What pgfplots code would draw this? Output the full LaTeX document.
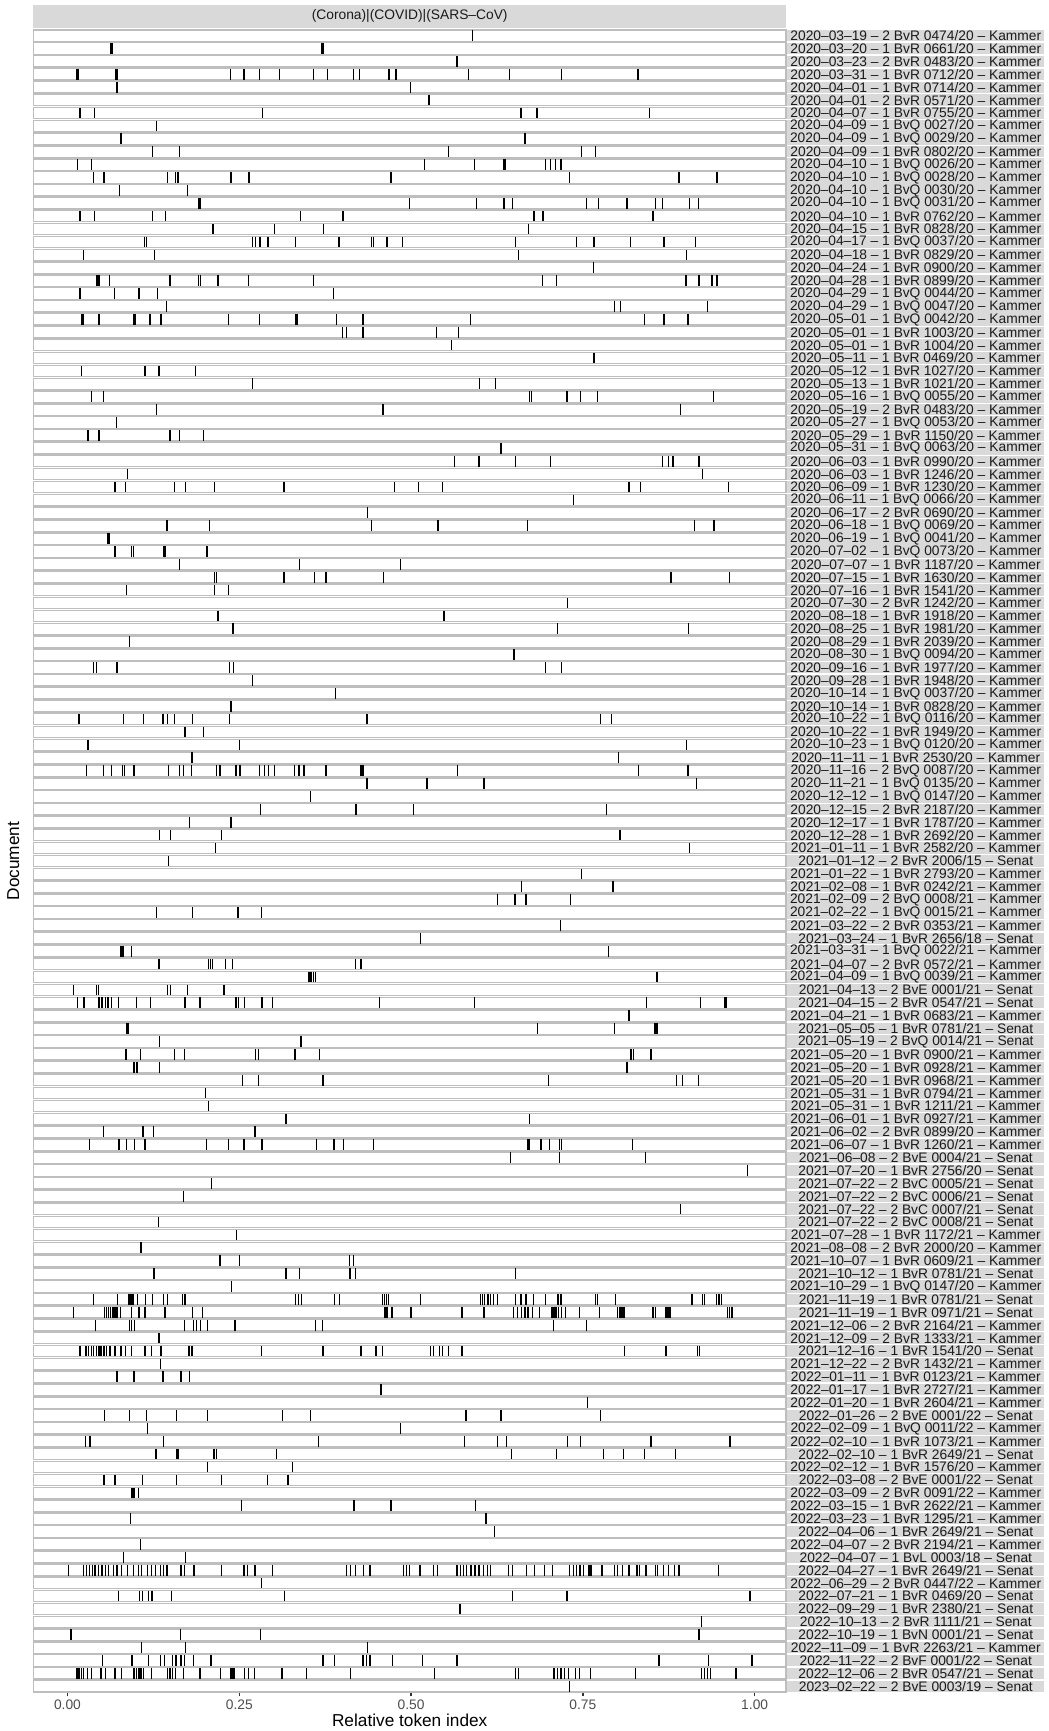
\documentclass[border=0pt]{standalone}
\usepackage{pgfplots}
\pgfplotsset{compat=1.18}
\usepackage{pgfplotstable}
\usepackage{fontspec}
\setmainfont{Liberation Sans}
\definecolor{stripbg}{HTML}{D9D9D9}
\definecolor{panelborder}{HTML}{BEBEBE}
\definecolor{gtext}{HTML}{1A1A1A}
\definecolor{gaxis}{HTML}{4D4D4D}
\definecolor{gtick}{HTML}{333333}
\newcommand\doclabel[1]{\ifcase#1\or
2020–03–19 – 2 BvR 0474/20 – Kammer\or
2020–03–20 – 1 BvR 0661/20 – Kammer\or
2020–03–23 – 2 BvR 0483/20 – Kammer\or
2020–03–31 – 1 BvR 0712/20 – Kammer\or
2020–04–01 – 1 BvR 0714/20 – Kammer\or
2020–04–01 – 2 BvR 0571/20 – Kammer\or
2020–04–07 – 1 BvR 0755/20 – Kammer\or
2020–04–09 – 1 BvQ 0027/20 – Kammer\or
2020–04–09 – 1 BvQ 0029/20 – Kammer\or
2020–04–09 – 1 BvR 0802/20 – Kammer\or
2020–04–10 – 1 BvQ 0026/20 – Kammer\or
2020–04–10 – 1 BvQ 0028/20 – Kammer\or
2020–04–10 – 1 BvQ 0030/20 – Kammer\or
2020–04–10 – 1 BvQ 0031/20 – Kammer\or
2020–04–10 – 1 BvR 0762/20 – Kammer\or
2020–04–15 – 1 BvR 0828/20 – Kammer\or
2020–04–17 – 1 BvQ 0037/20 – Kammer\or
2020–04–18 – 1 BvR 0829/20 – Kammer\or
2020–04–24 – 1 BvR 0900/20 – Kammer\or
2020–04–28 – 1 BvR 0899/20 – Kammer\or
2020–04–29 – 1 BvQ 0044/20 – Kammer\or
2020–04–29 – 1 BvQ 0047/20 – Kammer\or
2020–05–01 – 1 BvQ 0042/20 – Kammer\or
2020–05–01 – 1 BvR 1003/20 – Kammer\or
2020–05–01 – 1 BvR 1004/20 – Kammer\or
2020–05–11 – 1 BvR 0469/20 – Kammer\or
2020–05–12 – 1 BvR 1027/20 – Kammer\or
2020–05–13 – 1 BvR 1021/20 – Kammer\or
2020–05–16 – 1 BvQ 0055/20 – Kammer\or
2020–05–19 – 2 BvR 0483/20 – Kammer\or
2020–05–27 – 1 BvQ 0053/20 – Kammer\or
2020–05–29 – 1 BvR 1150/20 – Kammer\or
2020–05–31 – 1 BvQ 0063/20 – Kammer\or
2020–06–03 – 1 BvR 0990/20 – Kammer\or
2020–06–03 – 1 BvR 1246/20 – Kammer\or
2020–06–09 – 1 BvR 1230/20 – Kammer\or
2020–06–11 – 1 BvQ 0066/20 – Kammer\or
2020–06–17 – 2 BvR 0690/20 – Kammer\or
2020–06–18 – 1 BvQ 0069/20 – Kammer\or
2020–06–19 – 1 BvQ 0041/20 – Kammer\or
2020–07–02 – 1 BvQ 0073/20 – Kammer\or
2020–07–07 – 1 BvR 1187/20 – Kammer\or
2020–07–15 – 1 BvR 1630/20 – Kammer\or
2020–07–16 – 1 BvR 1541/20 – Kammer\or
2020–07–30 – 2 BvR 1242/20 – Kammer\or
2020–08–18 – 1 BvR 1918/20 – Kammer\or
2020–08–25 – 1 BvR 1981/20 – Kammer\or
2020–08–29 – 1 BvR 2039/20 – Kammer\or
2020–08–30 – 1 BvQ 0094/20 – Kammer\or
2020–09–16 – 1 BvR 1977/20 – Kammer\or
2020–09–28 – 1 BvR 1948/20 – Kammer\or
2020–10–14 – 1 BvQ 0037/20 – Kammer\or
2020–10–14 – 1 BvR 0828/20 – Kammer\or
2020–10–22 – 1 BvQ 0116/20 – Kammer\or
2020–10–22 – 1 BvR 1949/20 – Kammer\or
2020–10–23 – 1 BvQ 0120/20 – Kammer\or
2020–11–11 – 1 BvR 2530/20 – Kammer\or
2020–11–16 – 2 BvQ 0087/20 – Kammer\or
2020–11–21 – 1 BvQ 0135/20 – Kammer\or
2020–12–12 – 1 BvQ 0147/20 – Kammer\or
2020–12–15 – 2 BvR 2187/20 – Kammer\or
2020–12–17 – 1 BvR 1787/20 – Kammer\or
2020–12–28 – 1 BvR 2692/20 – Kammer\or
2021–01–11 – 1 BvR 2582/20 – Kammer\or
2021–01–12 – 2 BvR 2006/15 – Senat\or
2021–01–22 – 1 BvR 2793/20 – Kammer\or
2021–02–08 – 1 BvR 0242/21 – Kammer\or
2021–02–09 – 2 BvQ 0008/21 – Kammer\or
2021–02–22 – 1 BvQ 0015/21 – Kammer\or
2021–03–22 – 2 BvR 0353/21 – Kammer\or
2021–03–24 – 1 BvR 2656/18 – Senat\or
2021–03–31 – 1 BvQ 0022/21 – Kammer\or
2021–04–07 – 2 BvR 0572/21 – Kammer\or
2021–04–09 – 1 BvQ 0039/21 – Kammer\or
2021–04–13 – 2 BvE 0001/21 – Senat\or
2021–04–15 – 2 BvR 0547/21 – Senat\or
2021–04–21 – 1 BvR 0683/21 – Kammer\or
2021–05–05 – 1 BvR 0781/21 – Senat\or
2021–05–19 – 2 BvQ 0014/21 – Senat\or
2021–05–20 – 1 BvR 0900/21 – Kammer\or
2021–05–20 – 1 BvR 0928/21 – Kammer\or
2021–05–20 – 1 BvR 0968/21 – Kammer\or
2021–05–31 – 1 BvR 0794/21 – Kammer\or
2021–05–31 – 1 BvR 1211/21 – Kammer\or
2021–06–01 – 1 BvR 0927/21 – Kammer\or
2021–06–02 – 2 BvR 0899/20 – Kammer\or
2021–06–07 – 1 BvR 1260/21 – Kammer\or
2021–06–08 – 2 BvE 0004/21 – Senat\or
2021–07–20 – 1 BvR 2756/20 – Senat\or
2021–07–22 – 2 BvC 0005/21 – Senat\or
2021–07–22 – 2 BvC 0006/21 – Senat\or
2021–07–22 – 2 BvC 0007/21 – Senat\or
2021–07–22 – 2 BvC 0008/21 – Senat\or
2021–07–28 – 1 BvR 1172/21 – Kammer\or
2021–08–08 – 2 BvR 2000/20 – Kammer\or
2021–10–07 – 1 BvR 0609/21 – Kammer\or
2021–10–12 – 1 BvR 0781/21 – Senat\or
2021–10–29 – 1 BvQ 0147/20 – Kammer\or
2021–11–19 – 1 BvR 0781/21 – Senat\or
2021–11–19 – 1 BvR 0971/21 – Senat\or
2021–12–06 – 2 BvR 2164/21 – Kammer\or
2021–12–09 – 2 BvR 1333/21 – Kammer\or
2021–12–16 – 1 BvR 1541/20 – Senat\or
2021–12–22 – 2 BvR 1432/21 – Kammer\or
2022–01–11 – 1 BvR 0123/21 – Kammer\or
2022–01–17 – 1 BvR 2727/21 – Kammer\or
2022–01–20 – 1 BvR 2604/21 – Kammer\or
2022–01–26 – 2 BvE 0001/22 – Senat\or
2022–02–09 – 1 BvQ 0011/22 – Kammer\or
2022–02–10 – 1 BvR 1073/21 – Kammer\or
2022–02–10 – 1 BvR 2649/21 – Senat\or
2022–02–12 – 1 BvR 1576/20 – Kammer\or
2022–03–08 – 2 BvE 0001/22 – Senat\or
2022–03–09 – 2 BvR 0091/22 – Kammer\or
2022–03–15 – 1 BvR 2622/21 – Kammer\or
2022–03–23 – 1 BvR 1295/21 – Kammer\or
2022–04–06 – 1 BvR 2649/21 – Senat\or
2022–04–07 – 2 BvR 2194/21 – Kammer\or
2022–04–07 – 1 BvL 0003/18 – Senat\or
2022–04–27 – 1 BvR 2649/21 – Senat\or
2022–06–29 – 2 BvR 0447/22 – Kammer\or
2022–07–21 – 1 BvR 0469/20 – Senat\or
2022–09–29 – 1 BvR 2380/21 – Senat\or
2022–10–13 – 2 BvR 1111/21 – Senat\or
2022–10–19 – 1 BvN 0001/21 – Senat\or
2022–11–09 – 1 BvR 2263/21 – Kammer\or
2022–11–22 – 2 BvF 0001/22 – Senat\or
2022–12–06 – 2 BvR 0547/21 – Senat\or
2023–02–22 – 2 BvE 0003/19 – Senat\fi}
\pgfplotstableread[row sep=\\]{
r x\\
1 0.589\\
2 0.063\\ 2 0.065\\ 2 0.370\\ 2 0.372\\
3 0.567\\
4 0.014\\ 4 0.016\\ 4 0.070\\ 4 0.072\\ 4 0.237\\ 4 0.257\\ 4 0.279\\ 4 0.309\\ 4 0.358\\ 4 0.378\\ 4 0.416\\ 4 0.425\\ 4 0.468\\ 4 0.478\\ 4 0.584\\ 4 0.643\\ 4 0.719\\ 4 0.830\\
5 0.072\\ 5 0.499\\
6 0.526\\
7 0.018\\ 7 0.039\\ 7 0.284\\ 7 0.660\\ 7 0.683\\ 7 0.847\\
8 0.130\\
9 0.078\\ 9 0.666\\
10 0.124\\ 10 0.163\\ 10 0.554\\ 10 0.748\\ 10 0.768\\
11 0.015\\ 11 0.035\\ 11 0.520\\ 11 0.592\\ 11 0.635\\ 11 0.637\\ 11 0.696\\ 11 0.703\\ 11 0.710\\ 11 0.718\\
12 0.038\\ 12 0.053\\ 12 0.146\\ 12 0.157\\ 12 0.161\\ 12 0.238\\ 12 0.264\\ 12 0.471\\ 12 0.731\\ 12 0.890\\ 12 0.945\\
13 0.076\\ 13 0.175\\
14 0.191\\ 14 0.193\\ 14 0.498\\ 14 0.595\\ 14 0.635\\ 14 0.648\\ 14 0.755\\ 14 0.773\\ 14 0.814\\ 14 0.856\\ 14 0.866\\ 14 0.905\\ 14 0.918\\
15 0.018\\ 15 0.039\\ 15 0.124\\ 15 0.143\\ 15 0.339\\ 15 0.401\\ 15 0.679\\ 15 0.692\\ 15 0.852\\
16 0.212\\ 16 0.301\\ 16 0.373\\ 16 0.671\\
17 0.112\\ 17 0.115\\ 17 0.269\\ 17 0.274\\ 17 0.280\\ 17 0.292\\ 17 0.332\\ 17 0.395\\ 17 0.442\\ 17 0.445\\ 17 0.465\\ 17 0.488\\ 17 0.652\\ 17 0.741\\ 17 0.766\\ 17 0.819\\ 17 0.868\\ 17 0.914\\
18 0.023\\ 18 0.127\\ 18 0.656\\ 18 0.901\\
19 0.765\\
20 0.043\\ 20 0.046\\ 20 0.061\\ 20 0.149\\ 20 0.191\\ 20 0.194\\ 20 0.219\\ 20 0.263\\ 20 0.358\\ 20 0.691\\ 20 0.712\\ 20 0.900\\ 20 0.919\\ 20 0.938\\ 20 0.945\\
21 0.018\\ 21 0.068\\ 21 0.104\\ 21 0.131\\ 21 0.387\\
22 0.144\\ 22 0.796\\ 22 0.805\\ 22 0.931\\
23 0.021\\ 23 0.023\\ 23 0.046\\ 23 0.097\\ 23 0.099\\ 23 0.120\\ 23 0.136\\ 23 0.234\\ 23 0.279\\ 23 0.332\\ 23 0.334\\ 23 0.391\\ 23 0.430\\ 23 0.586\\ 23 0.840\\ 23 0.868\\ 23 0.903\\
24 0.400\\ 24 0.406\\ 24 0.430\\ 24 0.537\\ 24 0.569\\
25 0.559\\
26 0.765\\ 26 0.767\\
27 0.020\\ 27 0.113\\ 27 0.133\\ 27 0.186\\
28 0.269\\ 28 0.600\\ 28 0.623\\
29 0.035\\ 29 0.052\\ 29 0.672\\ 29 0.675\\ 29 0.727\\ 29 0.747\\ 29 0.771\\ 29 0.940\\
30 0.130\\ 30 0.459\\ 30 0.892\\
31 0.071\\
32 0.030\\ 32 0.046\\ 32 0.149\\ 32 0.163\\ 32 0.198\\
33 0.631\\
34 0.563\\ 34 0.599\\ 34 0.652\\ 34 0.703\\ 34 0.866\\ 34 0.875\\ 34 0.881\\ 34 0.919\\
35 0.087\\ 35 0.924\\
36 0.069\\ 36 0.084\\ 36 0.156\\ 36 0.172\\ 36 0.214\\ 36 0.315\\ 36 0.476\\ 36 0.511\\ 36 0.546\\ 36 0.817\\ 36 0.834\\ 36 0.962\\
37 0.736\\
38 0.437\\
39 0.145\\ 39 0.207\\ 39 0.442\\ 39 0.539\\ 39 0.669\\ 39 0.912\\ 39 0.941\\
40 0.059\\ 40 0.061\\
41 0.068\\ 41 0.070\\ 41 0.093\\ 41 0.096\\ 41 0.140\\ 41 0.142\\ 41 0.202\\ 41 0.204\\
42 0.163\\ 42 0.338\\ 42 0.485\\
43 0.214\\ 43 0.217\\ 43 0.315\\ 43 0.359\\ 43 0.376\\ 43 0.460\\ 43 0.878\\ 43 0.963\\
44 0.086\\ 44 0.214\\ 44 0.234\\
45 0.728\\
46 0.219\\ 46 0.548\\
47 0.241\\ 47 0.713\\ 47 0.904\\
48 0.090\\
49 0.650\\
50 0.038\\ 50 0.042\\ 50 0.072\\ 50 0.236\\ 50 0.242\\ 50 0.696\\ 50 0.719\\
51 0.269\\
52 0.390\\
53 0.238\\
54 0.017\\ 54 0.082\\ 54 0.111\\ 54 0.139\\ 54 0.146\\ 54 0.156\\ 54 0.182\\ 54 0.236\\ 54 0.436\\ 54 0.776\\ 54 0.792\\
55 0.171\\ 55 0.198\\
56 0.030\\ 56 0.250\\ 56 0.901\\
57 0.181\\ 57 0.802\\
58 0.028\\ 58 0.052\\ 58 0.064\\ 58 0.080\\ 58 0.083\\ 58 0.097\\ 58 0.147\\ 58 0.163\\ 58 0.169\\ 58 0.180\\ 58 0.217\\ 58 0.222\\ 58 0.245\\ 58 0.251\\ 58 0.279\\ 58 0.287\\ 58 0.293\\ 58 0.301\\ 58 0.330\\ 58 0.337\\ 58 0.344\\ 58 0.376\\ 58 0.427\\ 58 0.429\\ 58 0.431\\ 58 0.568\\ 58 0.831\\ 58 0.903\\
59 0.436\\ 59 0.523\\ 59 0.606\\ 59 0.915\\
60 0.354\\
61 0.281\\ 61 0.420\\ 61 0.504\\ 61 0.784\\
62 0.178\\ 62 0.238\\
63 0.134\\ 63 0.150\\ 63 0.224\\ 63 0.804\\
64 0.215\\ 64 0.905\\
65 0.147\\
66 0.748\\
67 0.661\\ 67 0.794\\
68 0.626\\ 68 0.651\\ 68 0.667\\ 68 0.732\\
69 0.130\\ 69 0.182\\ 69 0.248\\ 69 0.282\\
70 0.717\\
71 0.514\\
72 0.078\\ 72 0.081\\ 72 0.093\\ 72 0.787\\
73 0.133\\ 73 0.205\\ 73 0.208\\ 73 0.211\\ 73 0.230\\ 73 0.240\\ 73 0.419\\ 73 0.427\\
74 0.351\\ 74 0.353\\ 74 0.355\\ 74 0.358\\ 74 0.361\\ 74 0.858\\
75 0.009\\ 75 0.042\\ 75 0.045\\ 75 0.146\\ 75 0.150\\ 75 0.175\\ 75 0.228\\
76 0.015\\ 76 0.024\\ 76 0.046\\ 76 0.050\\ 76 0.055\\ 76 0.059\\ 76 0.064\\ 76 0.074\\ 76 0.100\\ 76 0.121\\ 76 0.171\\ 76 0.193\\ 76 0.245\\ 76 0.249\\ 76 0.258\\ 76 0.283\\ 76 0.298\\ 76 0.454\\ 76 0.592\\ 76 0.843\\ 76 0.921\\ 76 0.957\\ 76 0.959\\
77 0.817\\
78 0.086\\ 78 0.088\\ 78 0.684\\ 78 0.796\\ 78 0.855\\ 78 0.858\\
79 0.134\\ 79 0.340\\
80 0.085\\ 80 0.106\\ 80 0.156\\ 80 0.170\\ 80 0.274\\ 80 0.278\\ 80 0.331\\ 80 0.367\\ 80 0.820\\ 80 0.824\\ 80 0.849\\
81 0.097\\ 81 0.101\\ 81 0.134\\ 81 0.814\\
82 0.255\\ 82 0.278\\ 82 0.372\\ 82 0.700\\ 82 0.886\\ 82 0.895\\ 82 0.918\\
83 0.201\\
84 0.205\\
85 0.318\\ 85 0.672\\
86 0.052\\ 86 0.110\\ 86 0.125\\ 86 0.273\\
87 0.032\\ 87 0.075\\ 87 0.086\\ 87 0.098\\ 87 0.113\\ 87 0.202\\ 87 0.234\\ 87 0.257\\ 87 0.283\\ 87 0.362\\ 87 0.388\\ 87 0.402\\ 87 0.445\\ 87 0.670\\ 87 0.672\\ 87 0.689\\ 87 0.701\\ 87 0.716\\ 87 0.719\\ 87 0.822\\
88 0.645\\ 88 0.716\\ 88 0.841\\
89 0.990\\
90 0.210\\
91 0.169\\
92 0.892\\
93 0.132\\
94 0.246\\
95 0.107\\
96 0.222\\ 96 0.250\\ 96 0.410\\ 96 0.416\\
97 0.126\\ 97 0.318\\ 97 0.338\\ 97 0.411\\ 97 0.419\\ 97 0.652\\
98 0.239\\
99 0.038\\ 99 0.073\\ 99 0.089\\ 99 0.091\\ 99 0.094\\ 99 0.096\\ 99 0.102\\ 99 0.114\\ 99 0.124\\ 99 0.140\\ 99 0.146\\ 99 0.167\\ 99 0.171\\ 99 0.332\\ 99 0.336\\ 99 0.341\\ 99 0.389\\ 99 0.396\\ 99 0.458\\ 99 0.461\\ 99 0.464\\ 99 0.467\\ 99 0.514\\ 99 0.601\\ 99 0.604\\ 99 0.607\\ 99 0.612\\ 99 0.616\\ 99 0.620\\ 99 0.626\\ 99 0.652\\ 99 0.660\\ 99 0.667\\ 99 0.678\\ 99 0.696\\ 99 0.714\\ 99 0.718\\ 99 0.768\\ 99 0.771\\ 99 0.797\\ 99 0.909\\ 99 0.924\\ 99 0.927\\ 99 0.944\\ 99 0.948\\ 99 0.952\\
100 0.009\\ 100 0.054\\ 100 0.057\\ 100 0.060\\ 100 0.063\\ 100 0.066\\ 100 0.069\\ 100 0.072\\ 100 0.077\\ 100 0.093\\ 100 0.104\\ 100 0.113\\ 100 0.142\\ 100 0.182\\ 100 0.196\\ 100 0.462\\ 100 0.465\\ 100 0.472\\ 100 0.500\\ 100 0.574\\ 100 0.606\\ 100 0.649\\ 100 0.655\\ 100 0.661\\ 100 0.666\\ 100 0.670\\ 100 0.677\\ 100 0.687\\ 100 0.705\\ 100 0.708\\ 100 0.711\\ 100 0.715\\ 100 0.719\\ 100 0.725\\ 100 0.745\\ 100 0.774\\ 100 0.800\\ 100 0.804\\ 100 0.807\\ 100 0.810\\ 100 0.852\\ 100 0.856\\ 100 0.871\\ 100 0.874\\ 100 0.877\\ 100 0.960\\ 100 0.963\\ 100 0.967\\
101 0.041\\ 101 0.090\\ 101 0.093\\ 101 0.098\\ 101 0.170\\ 101 0.183\\ 101 0.188\\ 101 0.194\\ 101 0.204\\ 101 0.244\\ 101 0.361\\ 101 0.371\\ 101 0.707\\ 101 0.755\\
102 0.133\\
103 0.018\\ 103 0.027\\ 103 0.031\\ 103 0.035\\ 103 0.038\\ 103 0.042\\ 103 0.046\\ 103 0.049\\ 103 0.053\\ 103 0.057\\ 103 0.062\\ 103 0.069\\ 103 0.078\\ 103 0.084\\ 103 0.093\\ 103 0.113\\ 103 0.122\\ 103 0.136\\ 103 0.177\\ 103 0.181\\ 103 0.282\\ 103 0.372\\ 103 0.427\\ 103 0.449\\ 103 0.458\\ 103 0.528\\ 103 0.533\\ 103 0.541\\ 103 0.546\\ 103 0.554\\ 103 0.574\\ 103 0.811\\ 103 0.871\\ 103 0.917\\ 103 0.920\\
104 0.135\\
105 0.072\\ 105 0.097\\ 105 0.139\\ 105 0.165\\ 105 0.178\\
106 0.456\\
107 0.757\\
108 0.054\\ 108 0.090\\ 108 0.115\\ 108 0.159\\ 108 0.204\\ 108 0.313\\ 108 0.354\\ 108 0.580\\ 108 0.631\\ 108 0.776\\
109 0.116\\ 109 0.485\\
110 0.026\\ 110 0.033\\ 110 0.140\\ 110 0.365\\ 110 0.578\\ 110 0.626\\ 110 0.639\\ 110 0.728\\ 110 0.747\\ 110 0.849\\ 110 0.964\\
111 0.129\\ 111 0.159\\ 111 0.161\\ 111 0.213\\ 111 0.217\\ 111 0.304\\ 111 0.646\\ 111 0.712\\ 111 0.780\\ 111 0.809\\ 111 0.840\\ 111 0.885\\
112 0.204\\ 112 0.327\\
113 0.053\\ 113 0.069\\ 113 0.109\\ 113 0.159\\ 113 0.224\\ 113 0.291\\ 113 0.321\\
114 0.094\\ 114 0.097\\ 114 0.103\\
115 0.253\\ 115 0.417\\ 115 0.471\\ 115 0.594\\
116 0.092\\ 116 0.609\\
117 0.621\\
118 0.106\\
119 0.082\\ 119 0.172\\
120 0.001\\ 120 0.023\\ 120 0.028\\ 120 0.032\\ 120 0.036\\ 120 0.040\\ 120 0.045\\ 120 0.050\\ 120 0.055\\ 120 0.060\\ 120 0.067\\ 120 0.072\\ 120 0.079\\ 120 0.087\\ 120 0.096\\ 120 0.103\\ 120 0.108\\ 120 0.116\\ 120 0.122\\ 120 0.128\\ 120 0.135\\ 120 0.140\\ 120 0.145\\ 120 0.165\\ 120 0.170\\ 120 0.184\\ 120 0.224\\ 120 0.257\\ 120 0.262\\ 120 0.273\\ 120 0.298\\ 120 0.406\\ 120 0.412\\ 120 0.419\\ 120 0.431\\ 120 0.440\\ 120 0.489\\ 120 0.493\\ 120 0.498\\ 120 0.513\\ 120 0.533\\ 120 0.538\\ 120 0.567\\ 120 0.572\\ 120 0.576\\ 120 0.581\\ 120 0.587\\ 120 0.593\\ 120 0.599\\ 120 0.605\\ 120 0.611\\ 120 0.616\\ 120 0.642\\ 120 0.648\\ 120 0.668\\ 120 0.680\\ 120 0.694\\ 120 0.706\\ 120 0.731\\ 120 0.736\\ 120 0.741\\ 120 0.746\\ 120 0.751\\ 120 0.759\\ 120 0.762\\ 120 0.778\\ 120 0.796\\ 120 0.800\\ 120 0.808\\ 120 0.817\\ 120 0.829\\ 120 0.832\\ 120 0.842\\ 120 0.856\\ 120 0.859\\ 120 0.867\\ 120 0.875\\ 120 0.883\\ 120 0.890\\ 120 0.947\\
121 0.282\\
122 0.074\\ 122 0.105\\ 122 0.109\\ 122 0.118\\ 122 0.123\\ 122 0.151\\ 122 0.316\\ 122 0.648\\ 122 0.727\\ 122 0.993\\
123 0.571\\
124 0.923\\
125 0.005\\ 125 0.164\\ 125 0.281\\ 125 0.919\\
126 0.108\\ 126 0.172\\ 126 0.437\\
127 0.051\\ 127 0.094\\ 127 0.118\\ 127 0.135\\ 127 0.141\\ 127 0.153\\ 127 0.158\\ 127 0.165\\ 127 0.170\\ 127 0.183\\ 127 0.209\\ 127 0.372\\ 127 0.389\\ 127 0.430\\ 127 0.435\\ 127 0.440\\ 127 0.473\\ 127 0.517\\ 127 0.567\\ 127 0.861\\ 127 0.933\\ 127 0.996\\
128 0.014\\ 128 0.017\\ 128 0.020\\ 128 0.023\\ 128 0.029\\ 128 0.035\\ 128 0.049\\ 128 0.055\\ 128 0.069\\ 128 0.079\\ 128 0.097\\ 128 0.100\\ 128 0.104\\ 128 0.107\\ 128 0.111\\ 128 0.122\\ 128 0.146\\ 128 0.149\\ 128 0.153\\ 128 0.157\\ 128 0.169\\ 128 0.193\\ 128 0.223\\ 128 0.238\\ 128 0.241\\ 128 0.243\\ 128 0.258\\ 128 0.263\\ 128 0.272\\ 128 0.312\\ 128 0.348\\ 128 0.412\\ 128 0.534\\ 128 0.652\\ 128 0.656\\ 128 0.708\\ 128 0.713\\ 128 0.718\\ 128 0.723\\ 128 0.729\\ 128 0.739\\ 128 0.745\\ 128 0.761\\ 128 0.827\\ 128 0.923\\ 128 0.927\\ 128 0.931\\ 128 0.936\\ 128 0.973\\
129 0.731\\
}\ticktable
\begin{document}
\begin{tikzpicture}
\path[use as bounding box] (-21.3pt,-24.9pt) rectangle (647.7pt,1079.1pt);
\begin{axis}[
  at={(0pt,0pt)}, anchor=south west,
  scale only axis, width=480pt, height=1060pt,
  xmin=-0.0496, xmax=1.0456, ymin=0.56, ymax=129.44,
  clip=false,
  axis line style={draw=none},
  xtick={0,0.25,0.5,0.75,1}, xticklabels={0.00,0.25,0.50,0.75,1.00},
  xtick pos=bottom, tick align=outside,
  major tick length=2.75pt,
  xtick style={draw=gtick, line width=0.8pt},
  xticklabel style={font=\fontsize{8.8}{10}\selectfont, text=gaxis, inner sep=0pt, yshift=-2.2pt},
  ytick=\empty,
]
\pgfplotsinvokeforeach{1,...,129}{
  \draw[panelborder, line width=0.8pt] (axis cs:-0.0496,#1-0.44) rectangle (axis cs:1.0456,#1+0.44);
  \node[anchor=west, fill=stripbg, inner sep=0pt, minimum width=164pt, minimum height=7.24pt, font=\fontsize{8.8}{10}\selectfont, text=gtext] at ([xshift=0.6pt]axis cs:1.0456,130-#1) {\doclabel{#1}};
}
\addplot[color=black, only marks, mark=|, mark size=3.4pt, mark options={draw=black, line width=0.85pt}] table[x=x, y expr=130-\thisrow{r}] {\ticktable};
\end{axis}
\node[fill=stripbg, inner sep=0pt, minimum width=480pt, minimum height=14.7pt, anchor=south, font=\fontsize{8.8}{10}\selectfont, text=gtext] at ([yshift=1.3pt]current axis.north) {(Corona)|(COVID)|(SARS–CoV)};
\node[rotate=90, font=\fontsize{11}{13}\selectfont] at ([xshift=-12.9pt]current axis.west) {Document};
\node[font=\fontsize{11}{13}\selectfont] at ([yshift=-17.9pt]current axis.south) {Relative token index};
\end{tikzpicture}
\end{document}
